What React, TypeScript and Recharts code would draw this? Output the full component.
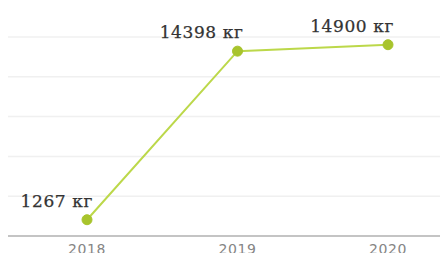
import { LineChart, Line, XAxis, YAxis, CartesianGrid } from "recharts";

const years = ["2018", "2019", "2020"];
const weights = [1267, 14398, 14900];
const yTicks = [0, 3100, 6200, 9300, 12400, 15500];

const data = years.map((year, i) => ({ year, kg: weights[i] }));

const WeightLabel = (props: any) => {
  const { x, y, value } = props;
  return (
    <text
      x={x + 6}
      y={y - 13}
      textAnchor="end"
      fill="#333"
      fontFamily="DejaVu Serif"
      fontSize={17}
      letterSpacing={0.6}
      stroke="#333"
      strokeWidth={0.25}
    >
      {`${value} кг`}
    </text>
  );
};

const App = () => {
  return (
    <div style={{ width: 448, height: 261, background: "#fff", margin: -8 }}>
      <LineChart
        width={448}
        height={261}
        data={data}
        margin={{ top: 37, right: 0, bottom: 0, left: 8 }}
      >
        {/* faint horizontal lines */}
        <CartesianGrid vertical={false} stroke="#f0f0f0" strokeWidth={1.5} />

        <XAxis
          dataKey="year"
          padding={{ left: 79, right: 60 }}
          stroke="#c4c4c4"
          strokeWidth={2}
          tickLine={false}
          tickSize={0}
          tickMargin={8}
          tick={{ fontSize: 14, fill: "#858585", fontFamily: "DejaVu Sans", letterSpacing: 0.6 }}
          height={25}
        />
        <YAxis hide domain={[0, 15500]} ticks={yTicks} />

        <Line
          dataKey="kg"
          stroke="#bcd84a"
          strokeWidth={2}
          dot={{ r: 5, fill: "#a8c42c", stroke: "#a8c42c", strokeWidth: 1 }}
          label={<WeightLabel />}
          isAnimationActive={false}
        />
      </LineChart>
    </div>
  );
};

export default App;
